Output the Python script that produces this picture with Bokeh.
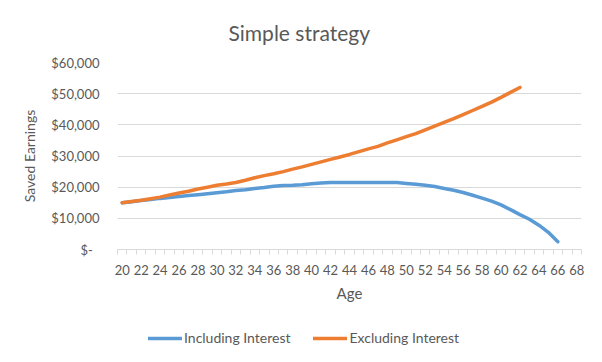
from bokeh.plotting import figure
from bokeh.layouts import column
from bokeh.models import Range1d, FixedTicker, CustomJSTickFormatter, Legend, LegendItem
from bokeh.embed import file_html
from bokeh.resources import INLINE

# ---- data ----
ages_incl = [20, 21, 22, 23, 24, 25, 26, 27, 28, 29, 30, 31, 32, 33, 34, 35, 36, 37, 38, 39,
             40, 41, 42, 43, 44, 45, 46, 47, 48, 49, 50, 51, 52, 53, 54, 55, 56, 57, 58, 59,
             60, 61, 62, 63, 64, 65, 66]
including = [15000, 15300, 15700, 16000, 16400, 16700, 17000, 17300, 17600, 17900,
             18200, 18500, 18900, 19200, 19600, 19900, 20300, 20500, 20600, 20800,
             21100, 21300, 21500, 21500, 21500, 21500, 21500, 21500, 21500, 21500,
             21200, 20900, 20600, 20200, 19600, 19000, 18300, 17400, 16500, 15500,
             14300, 12800, 11200, 9700, 7800, 5500, 2500]
ages_excl = [20, 21, 22, 23, 24, 25, 26, 27, 28, 29, 30, 31, 32, 33, 34, 35, 36, 37, 38, 39,
             40, 41, 42, 43, 44, 45, 46, 47, 48, 49, 50, 51, 52, 53, 54, 55, 56, 57, 58, 59,
             60, 61, 62]
excluding = [15000, 15400, 15800, 16300, 16800, 17500, 18100, 18700, 19400, 20000,
             20600, 21000, 21500, 22200, 23000, 23700, 24300, 25000, 25800, 26500,
             27300, 28100, 28900, 29700, 30500, 31400, 32300, 33100, 34200, 35200,
             36200, 37200, 38400, 39600, 40800, 42000, 43300, 44600, 45900, 47300,
             48800, 50400, 52000]
series_names = ["Including Interest", "Excluding Interest"]
x_tick_labels = [20, 22, 24, 26, 28, 30, 32, 34, 36, 38, 40, 42, 44, 46, 48, 50, 52, 54,
                 56, 58, 60, 62, 64, 66, 68]
y_ticks = [0, 10000, 20000, 30000, 40000, 50000, 60000]

FONT = "Lato"
GRAY = "#595959"
GRID = "#d9d9d9"
BLUE = "#5B9BD5"
ORANGE = "#ED7D31"

p = figure(frame_width=464, frame_height=187, output_backend="svg", toolbar_location=None,
           x_range=Range1d(19.5, 68.5), y_range=Range1d(0, 60000),
           min_border_left=117, min_border_right=5, min_border_top=62, min_border_bottom=0,
           title="Simple strategy")
p.outline_line_color = None

p.title.text_font = FONT
p.title.text_font_size = "21px"
p.title.text_font_style = "normal"
p.title.text_color = GRAY
p.title.align = "left"
p.title.vertical_align = "top"
p.title.offset = 111
p.title.standoff = 32

p.line(ages_incl, including, line_color=BLUE, line_width=3.5,
       line_cap="round", line_join="round")
p.line(ages_excl, excluding, line_color=ORANGE, line_width=3.5,
       line_cap="round", line_join="round")

# x axis
xa = p.xaxis[0]
xa.ticker = FixedTicker(ticks=x_tick_labels, minor_ticks=[a - 0.5 for a in range(20, 70)])
xa.major_tick_line_color = None
xa.major_tick_out = 0
xa.major_tick_in = 0
xa.minor_tick_line_color = GRID
xa.minor_tick_out = 5
xa.minor_tick_in = 0
xa.axis_line_color = GRID
xa.major_label_text_font = FONT
xa.major_label_text_font_size = "13px"
xa.major_label_text_color = GRAY
xa.major_label_standoff = 10
xa.axis_label = "Age"
xa.axis_label_text_font = FONT
xa.axis_label_text_font_size = "15px"
xa.axis_label_text_font_style = "normal"
xa.axis_label_text_color = GRAY
xa.axis_label_standoff = 6
p.xgrid.visible = False

# y axis
ya = p.yaxis[0]
ya.ticker = FixedTicker(ticks=y_ticks)
ya.axis_line_color = None
ya.major_tick_line_color = None
ya.minor_tick_line_color = None
ya.major_tick_out = 0
ya.major_tick_in = 0
ya.major_label_standoff = 18
ya.major_label_text_font = FONT
ya.major_label_text_font_size = "13px"
ya.major_label_text_color = GRAY
ya.formatter = CustomJSTickFormatter(code="""
    if (tick == 0) { return '$-\\u00a0\\u00a0'; }
    return '$' + Math.round(tick).toFixed(0).replace(/\\B(?=(\\d{3})+(?!\\d))/g, ',');
""")
ya.axis_label = "Saved Earnings"
ya.axis_label_text_font = FONT
ya.axis_label_text_font_size = "14px"
ya.axis_label_text_font_style = "normal"
ya.axis_label_text_color = GRAY
ya.axis_label_standoff = 10
p.ygrid.ticker = FixedTicker(ticks=y_ticks)
p.ygrid.grid_line_color = GRID

# legend strip below the chart (frames are aligned with the chart above)
lg = figure(width=586, height=42, output_backend="svg", toolbar_location=None,
            x_axis_type=None, y_axis_type=None,
            x_range=Range1d(0, 1), y_range=Range1d(0, 1),
            min_border_left=0, min_border_right=0, min_border_top=0, min_border_bottom=0)
lg.outline_line_color = None
l1 = lg.line(ages_incl, including, line_color=BLUE, line_width=3.5, line_cap="round",
             visible=False)
l2 = lg.line(ages_excl, excluding, line_color=ORANGE, line_width=3.5, line_cap="round",
             visible=False)
legend = Legend(items=[LegendItem(label=series_names[0], renderers=[l1]),
                       LegendItem(label=series_names[1], renderers=[l2])],
                orientation="horizontal", location=(31, 0), padding=0, margin=0,
                spacing=23, label_standoff=2, glyph_width=34, glyph_height=14,
                label_text_font=FONT, label_text_font_size="14px",
                label_text_color=GRAY, border_line_color=None,
                background_fill_alpha=0, inactive_fill_alpha=0)
lg.add_layout(legend, "center")

layout = column(p, lg, spacing=0)
open("out.html", "w").write(file_html(layout, INLINE))
